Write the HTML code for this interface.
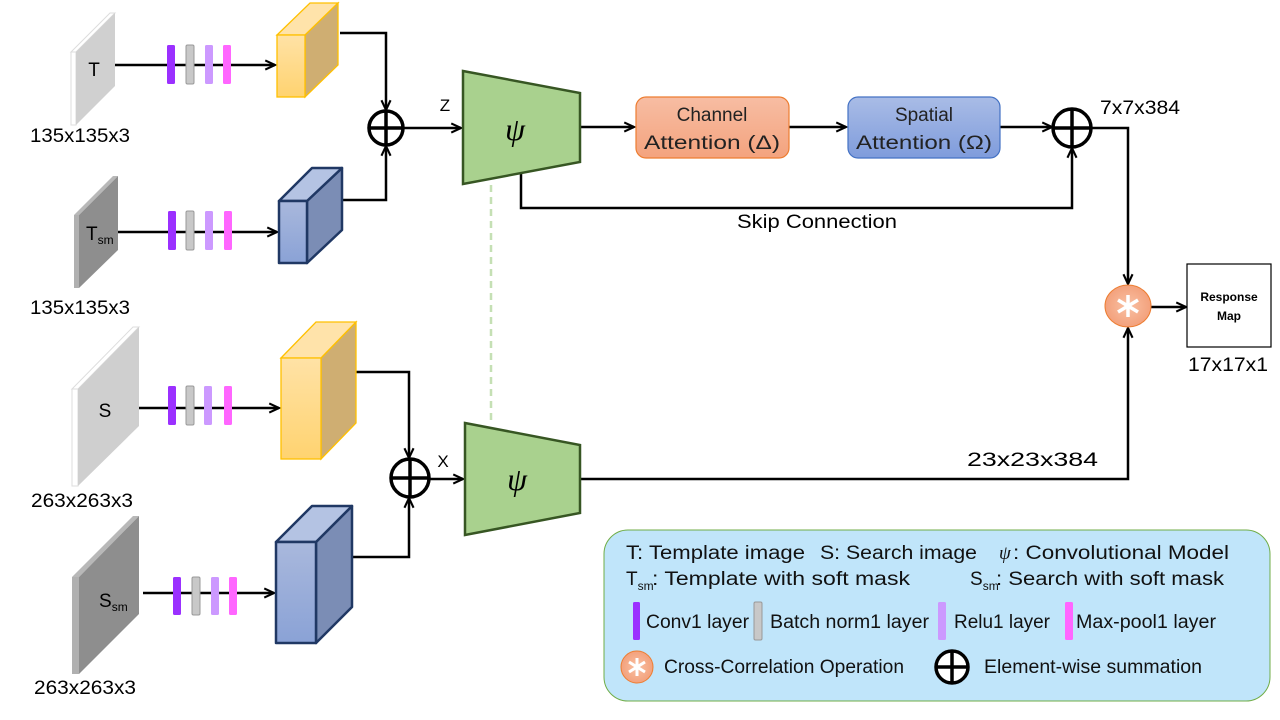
<!DOCTYPE html>
<html><head><meta charset="utf-8"><style>
html,body{margin:0;padding:0;background:#fff;}
svg{display:block;font-family:"Liberation Sans","DejaVu Sans",sans-serif;}
</style></head><body>
<svg width="1280" height="720" viewBox="0 0 1280 720" xmlns="http://www.w3.org/2000/svg">
<defs>
<marker id="ar" viewBox="0 0 10 10" refX="9" refY="5" markerWidth="13" markerHeight="13" orient="auto" markerUnits="userSpaceOnUse">
<path d="M1.5,1.5 L9,5 L1.5,8.5" fill="none" stroke="#000" stroke-width="1.6"/></marker>
<linearGradient id="yel" x1="0" y1="0" x2="0" y2="1"><stop offset="0" stop-color="#ffe2a6"/><stop offset="1" stop-color="#ffd370"/></linearGradient>
<linearGradient id="blu" x1="0" y1="0" x2="0" y2="1"><stop offset="0" stop-color="#a9b8dc"/><stop offset="1" stop-color="#8aa2d6"/></linearGradient>
<linearGradient id="ca" x1="0" y1="0" x2="0" y2="1"><stop offset="0" stop-color="#f7bda3"/><stop offset="1" stop-color="#f4a37e"/></linearGradient>
<linearGradient id="sa" x1="0" y1="0" x2="0" y2="1"><stop offset="0" stop-color="#a9bce6"/><stop offset="1" stop-color="#7f9cdc"/></linearGradient>
<radialGradient id="st"><stop offset="0" stop-color="#f9c1a4"/><stop offset="1" stop-color="#f3a17c"/></radialGradient>
</defs>
<g stroke="#000" stroke-width="2.5" fill="none">
<line x1="115" y1="65" x2="275" y2="65" marker-end="url(#ar)"/>
<polyline points="340,33 386,33 386,110" marker-end="url(#ar)"/>
<line x1="118" y1="232" x2="277" y2="232" marker-end="url(#ar)"/>
<polyline points="342,200 386,200 386,146" marker-end="url(#ar)"/>
<line x1="403" y1="128" x2="461" y2="128" marker-end="url(#ar)"/>
<line x1="139" y1="408" x2="279" y2="408" marker-end="url(#ar)"/>
<polyline points="356,372 409,372 409,458" marker-end="url(#ar)"/>
<line x1="143" y1="593" x2="274" y2="593" marker-end="url(#ar)"/>
<polyline points="352,557 409,557 409,498" marker-end="url(#ar)"/>
<line x1="429" y1="479" x2="463" y2="479" marker-end="url(#ar)"/>
<line x1="580" y1="127" x2="634" y2="127" marker-end="url(#ar)"/>
<line x1="789" y1="127" x2="846" y2="127" marker-end="url(#ar)"/>
<line x1="1000" y1="127" x2="1052" y2="127" marker-end="url(#ar)"/>
<polyline points="521,163 521,208 1072,208 1072,148" marker-end="url(#ar)"/>
<polyline points="1091,128 1128,128 1128,284" marker-end="url(#ar)"/>
<polyline points="580,479 1128,479 1128,328" marker-end="url(#ar)"/>
<line x1="1151" y1="307" x2="1186" y2="307" marker-end="url(#ar)"/>
</g>
<polygon points="71,52 76,52 76,125 71,125" fill="#fff" stroke="#ddd" stroke-width="1"/>
<polygon points="71,52 110,13 115,13 76,52" fill="#fff" stroke="#ddd" stroke-width="1"/>
<polygon points="76,52 115,13 115,86 76,125" fill="#d0d0d0"/>
<text x="94" y="76" font-size="19" text-anchor="middle">T</text>
<text x="30" y="142" font-size="19" textLength="100" lengthAdjust="spacingAndGlyphs">135x135x3</text>
<polygon points="74,215 79,215 79,288 74,288" fill="#b0b0b0"/>
<polygon points="74,215 113,176 118,176 79,215" fill="#b8b8b8"/>
<polygon points="79,215 118,176 118,250 79,288" fill="#8e8e8e"/>
<text x="86" y="240" font-size="19">T<tspan font-size="12" dy="4">sm</tspan></text>
<text x="30" y="314" font-size="19" textLength="100" lengthAdjust="spacingAndGlyphs">135x135x3</text>
<polygon points="72,389 78,389 78,486 72,486" fill="#fff" stroke="#ddd" stroke-width="1"/>
<polygon points="72,389 133,327 139,327 78,389" fill="#fff" stroke="#ddd" stroke-width="1"/>
<polygon points="78,389 139,327 139,426 78,486" fill="#cfcfcf"/>
<text x="105" y="417" font-size="19" text-anchor="middle">S</text>
<text x="31" y="507" font-size="19" textLength="102" lengthAdjust="spacingAndGlyphs">263x263x3</text>
<polygon points="72,577 79,577 79,674 72,674" fill="#b0b0b0"/>
<polygon points="72,577 133,516 139,516 79,577" fill="#b8b8b8"/>
<polygon points="79,577 139,516 139,614 79,674" fill="#8e8e8e"/>
<text x="99" y="607" font-size="19">S<tspan font-size="12" dy="4">sm</tspan></text>
<text x="34" y="694" font-size="19" textLength="102" lengthAdjust="spacingAndGlyphs">263x263x3</text>
<g>
<rect x="167" y="45" width="8" height="39" rx="1.5" fill="#9b30ff"/><rect x="186" y="45" width="8" height="39" rx="1.5" fill="#c8c8c8" stroke="#999"/><rect x="205" y="45" width="8" height="39" rx="1.5" fill="#cc99ff"/><rect x="223" y="45" width="8" height="39" rx="1.5" fill="#ff66ff"/>
<rect x="168" y="211" width="8" height="39" rx="1.5" fill="#9b30ff"/><rect x="186" y="211" width="8" height="39" rx="1.5" fill="#c8c8c8" stroke="#999"/><rect x="205" y="211" width="8" height="39" rx="1.5" fill="#cc99ff"/><rect x="224" y="211" width="8" height="39" rx="1.5" fill="#ff66ff"/>
<rect x="168" y="386" width="8" height="39" rx="1.5" fill="#9b30ff"/><rect x="186" y="386" width="8" height="39" rx="1.5" fill="#c8c8c8" stroke="#999"/><rect x="204" y="386" width="8" height="39" rx="1.5" fill="#cc99ff"/><rect x="224" y="386" width="8" height="39" rx="1.5" fill="#ff66ff"/>
<rect x="173" y="577" width="8" height="38" rx="1.5" fill="#9b30ff"/><rect x="192" y="577" width="8" height="38" rx="1.5" fill="#c8c8c8" stroke="#999"/><rect x="211" y="577" width="8" height="38" rx="1.5" fill="#cc99ff"/><rect x="229" y="577" width="8" height="38" rx="1.5" fill="#ff66ff"/>
</g>
<g stroke="#ffc000" stroke-width="1.3">
<polygon points="305,35 338,3 338,65 305,97" fill="#cfae72"/>
<polygon points="277,35 310,3 338,3 305,35" fill="#ffe3aa"/>
<rect x="277" y="35" width="28" height="62" fill="url(#yel)"/>
<polygon points="321,358 356,322 356,423 321,459" fill="#cfae72"/>
<polygon points="281,358 316,322 356,322 321,358" fill="#ffe3aa"/>
<rect x="281" y="358" width="40" height="101" fill="url(#yel)"/>
</g>
<g stroke="#203864" stroke-width="2.5" stroke-linejoin="round">
<polygon points="307,201 342,168 342,230 307,263" fill="#7b8db5"/>
<polygon points="279,201 312,168 342,168 307,201" fill="#b4c3e3"/>
<rect x="279" y="201" width="28" height="62" fill="url(#blu)"/>
<polygon points="316,542 352,506 352,607 316,643" fill="#7b8db5"/>
<polygon points="276,542 312,506 352,506 316,542" fill="#b4c3e3"/>
<rect x="276" y="542" width="40" height="101" fill="url(#blu)"/>
</g>
<g stroke="#000" stroke-width="3.5" fill="#fff">
<circle cx="386" cy="128" r="17"/><line x1="369" y1="128" x2="403" y2="128"/><line x1="386" y1="111" x2="386" y2="145"/>
<circle cx="410" cy="478" r="19"/><line x1="391" y1="478" x2="429" y2="478"/><line x1="410" y1="459" x2="410" y2="497"/>
<circle cx="1072" cy="128" r="19"/><line x1="1053" y1="128" x2="1091" y2="128"/><line x1="1072" y1="109" x2="1072" y2="147"/>
</g>
<text x="445" y="111" font-size="17" text-anchor="middle">Z</text>
<text x="443" y="467" font-size="17" text-anchor="middle">X</text>
<line x1="491" y1="185" x2="491" y2="423" stroke="#c5e0b4" stroke-width="2.5" stroke-dasharray="7,5"/>
<polygon points="463,71 580,93 580,162 463,184" fill="#a9d18e" stroke="#375623" stroke-width="2.5"/>
<polygon points="465,423 580,445 580,513 465,535" fill="#a9d18e" stroke="#375623" stroke-width="2.5"/>
<text x="515" y="140" font-size="32" font-style="italic" font-family="Liberation Serif,serif" text-anchor="middle">ψ</text>
<text x="517" y="490" font-size="32" font-style="italic" font-family="Liberation Serif,serif" text-anchor="middle">ψ</text>
<rect x="636" y="97" width="153" height="61" rx="10" fill="url(#ca)" stroke="#ed7d31" stroke-width="1.2"/>
<text x="712" y="121" font-size="19" text-anchor="middle" fill="#222">Channel</text>
<text x="712" y="149" font-size="19" text-anchor="middle" fill="#222" textLength="136" lengthAdjust="spacingAndGlyphs">Attention (Δ)</text>
<rect x="848" y="97" width="152" height="61" rx="10" fill="url(#sa)" stroke="#4472c4" stroke-width="1.2"/>
<text x="924" y="121" font-size="19" text-anchor="middle" fill="#222">Spatial</text>
<text x="924" y="149" font-size="19" text-anchor="middle" fill="#222" textLength="136" lengthAdjust="spacingAndGlyphs">Attention (Ω)</text>
<text x="737" y="228" font-size="19" textLength="160" lengthAdjust="spacingAndGlyphs">Skip Connection</text>
<text x="1100" y="114" font-size="19" textLength="80" lengthAdjust="spacingAndGlyphs">7x7x384</text>
<text x="967" y="466" font-size="19" textLength="131" lengthAdjust="spacingAndGlyphs">23x23x384</text>
<ellipse cx="1128" cy="306" rx="23" ry="21" fill="url(#st)" stroke="#ed7d31" stroke-width="1"/>
<g stroke="#fff" stroke-width="3.5"><line x1="1128" y1="295" x2="1128" y2="317"/><line x1="1118" y1="300" x2="1138" y2="312"/><line x1="1118" y1="312" x2="1138" y2="300"/></g>
<rect x="1187" y="264" width="84" height="83" fill="#fff" stroke="#000" stroke-width="1.2"/>
<text x="1229" y="301" font-size="12" font-weight="bold" text-anchor="middle">Response</text>
<text x="1229" y="320" font-size="12" font-weight="bold" text-anchor="middle">Map</text>
<text x="1188" y="371" font-size="19" textLength="80" lengthAdjust="spacingAndGlyphs">17x17x1</text>
<rect x="604" y="530" width="666" height="171" rx="24" fill="#c0e5fa" stroke="#70ad47" stroke-width="1"/>
<g font-size="19" fill="#111">
<text x="626" y="559" textLength="179" lengthAdjust="spacingAndGlyphs">T: Template image</text>
<text x="820" y="559" textLength="157" lengthAdjust="spacingAndGlyphs">S: Search image</text>
<text x="999" y="559" font-style="italic" font-family="Liberation Serif,serif">ψ</text>
<text x="1013" y="559" textLength="216" lengthAdjust="spacingAndGlyphs">: Convolutional Model</text>
<text x="626" y="585">T<tspan font-size="12" dy="5">sm</tspan></text>
<text x="652" y="585" textLength="258" lengthAdjust="spacingAndGlyphs">: Template with soft mask</text>
<text x="970" y="585">S<tspan font-size="12" dy="5">sm</tspan></text>
<text x="996" y="585" textLength="228" lengthAdjust="spacingAndGlyphs">: Search with soft mask</text>
<text x="646" y="628" textLength="103" lengthAdjust="spacingAndGlyphs">Conv1 layer</text>
<text x="770" y="628" textLength="159" lengthAdjust="spacingAndGlyphs">Batch norm1 layer</text>
<text x="954" y="628" textLength="96" lengthAdjust="spacingAndGlyphs">Relu1 layer</text>
<text x="1076" y="628" textLength="140" lengthAdjust="spacingAndGlyphs">Max-pool1 layer</text>
<text x="664" y="673" textLength="240" lengthAdjust="spacingAndGlyphs">Cross-Correlation  Operation</text>
<text x="984" y="673" textLength="218" lengthAdjust="spacingAndGlyphs">Element-wise  summation</text>
</g>
<rect x="633" y="602" width="7" height="38" rx="1.5" fill="#9b30ff"/>
<rect x="754" y="602" width="8" height="38" rx="1.5" fill="#c8c8c8" stroke="#999"/>
<rect x="938" y="602" width="8" height="38" rx="1.5" fill="#cc99ff"/>
<rect x="1065" y="602" width="8" height="38" rx="1.5" fill="#ff66ff"/>
<circle cx="637" cy="667" r="16" fill="url(#st)" stroke="#ed7d31" stroke-width="1"/>
<g stroke="#fff" stroke-width="3"><line x1="637" y1="658" x2="637" y2="676"/><line x1="629" y1="662" x2="645" y2="672"/><line x1="629" y1="672" x2="645" y2="662"/></g>
<g stroke="#000" stroke-width="3.5" fill="#fff"><circle cx="952" cy="667" r="16"/><line x1="936" y1="667" x2="968" y2="667"/><line x1="952" y1="651" x2="952" y2="683"/></g>
</svg>
</body></html>
